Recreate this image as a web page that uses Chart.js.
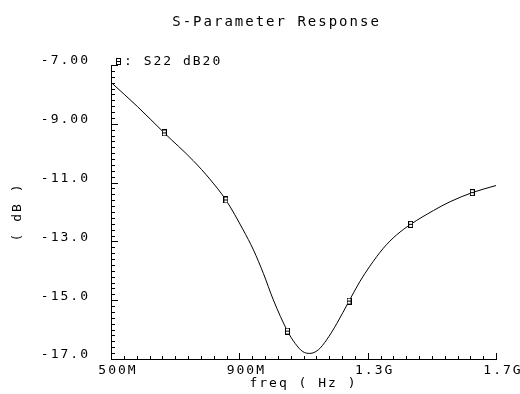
<!DOCTYPE html>
<html>
<head>
<meta charset="utf-8">
<script src="https://cdn.jsdelivr.net/npm/chart.js@4.4.1/dist/chart.umd.min.js"></script>
<style>
  html, body { margin: 0; padding: 0; background: #fff; }
</style>
</head>
<body>
<canvas id="grafica" width="520" height="394"></canvas>
<script>
const titulo = "S-Parameter Response";
const nombreSerie = "S22 dB20";

// frecuencia (MHz) y S22 (dB)
const frecuencias = [500, 583, 666, 756, 808, 858, 912, 944, 975, 1006, 1050, 1074, 1098, 1120,
    1146, 1172, 1204, 1242, 1276, 1307, 1349, 1390, 1434, 1505, 1557, 1626, 1700];
const s22 = [-7.59, -8.42, -9.31, -10.25, -10.88, -11.59, -12.61, -13.29, -14.09, -14.99, -16.05, -16.47, -16.75, -16.81,
    -16.69, -16.35, -15.79, -15.03, -14.36, -13.84, -13.23, -12.78, -12.42, -11.95, -11.65, -11.34, -11.10];
const marcadores = [666, 858, 1050, 1242, 1434, 1626];

const xTicks = [500, 900, 1300, 1700];
const xEtiquetas = ["500M", "900M", "1.3G", "1.7G"];
const yTicks = [-17, -15, -13, -11, -9, -7];
const yEtiquetas = ["-17.0", "-15.0", "-13.0", "-11.0", "-9.00", "-7.00"];

const fuente = { family: "'DejaVu Sans Mono', monospace", size: 13 };

function crearMarcador() {
    const c = document.createElement('canvas');
    c.width = 5;
    c.height = 7;
    const g = c.getContext('2d');
    g.fillStyle = '#fff';
    g.fillRect(0, 0, 5, 7);
    g.strokeStyle = '#000';
    g.lineWidth = 1;
    g.strokeRect(0.5, 0.5, 4, 6);
    g.fillStyle = '#000';
    g.fillRect(1, 3, 3, 1);
    return c;
}
const marcador = crearMarcador();

function esMayor(v, lista) {
    return lista.findIndex(m => Math.abs(m - v) < 1e-6);
}

// letras separadas como en la fuente original
const espaciado = {
    id: 'espaciado',
    beforeUpdate(chart) { chart.ctx.letterSpacing = '2px'; },
    beforeDraw(chart) { chart.ctx.letterSpacing = '2px'; }
};

// marcas de los ejes hacia adentro, titulo y leyenda
const marcasInternas = {
    id: 'marcasInternas',
    afterDraw(chart) {
        const c = chart.ctx;
        const area = chart.chartArea;
        const x = chart.scales.x;
        const y = chart.scales.y;
        c.save();
        c.fillStyle = '#000';
        const base = Math.round(area.bottom);
        for (const t of x.ticks) {
            const px = Math.round(x.getPixelForValue(t.value));
            const largo = esMayor(t.value, xTicks) >= 0 ? 6 : 3;
            c.fillRect(px, base - largo, 1, largo);
        }
        const izq = Math.round(area.left);
        for (const t of y.ticks) {
            const py = Math.round(y.getPixelForValue(t.value));
            const largo = esMayor(t.value, yTicks) >= 0 ? 6 : 3;
            c.fillRect(izq, py, largo + 1, 1);
        }

        c.textBaseline = 'alphabetic';
        c.font = "14px 'DejaVu Sans Mono', monospace";
        c.textAlign = 'center';
        c.fillText(titulo, area.left + area.width * 0.43, 26);

        c.drawImage(marcador, area.left + 5, area.top - 7);
        c.font = "13px 'DejaVu Sans Mono', monospace";
        c.textAlign = 'left';
        c.fillText(": " + nombreSerie, area.left + 13, area.top);
        c.restore();
    }
};

const ctx = document.getElementById('grafica').getContext('2d');
const grafica = new Chart(ctx, {
    type: 'line',
    data: {
        datasets: [{
            label: nombreSerie,
            data: frecuencias.map((f, i) => ({ x: f, y: s22[i] })),
            borderColor: '#000',
            borderWidth: 1,
            fill: false,
            cubicInterpolationMode: 'monotone',
            pointStyle: marcador,
            pointRadius: c => (c.raw && marcadores.includes(c.raw.x)) ? 3 : 0,
            pointHoverRadius: 0
        }]
    },
    options: {
        responsive: false,
        animation: false,
        devicePixelRatio: 1,
        layout: { padding: { top: 65, right: 24, bottom: 0, left: 0 } },
        plugins: {
            legend: { display: false },
            title: { display: false },
            tooltip: { enabled: false }
        },
        scales: {
            x: {
                type: 'linear',
                min: 500,
                max: 1700,
                grid: { display: false, drawTicks: false },
                border: { display: true, color: '#000', width: 1 },
                ticks: {
                    stepSize: 40,
                    autoSkip: false,
                    maxRotation: 0,
                    padding: 4,
                    labelOffset: 7,
                    color: '#000',
                    font: fuente,
                    callback: v => {
                        const i = esMayor(v, xTicks);
                        return i >= 0 ? xEtiquetas[i] : '';
                    }
                },
                title: { display: true, text: 'freq ( Hz )', color: '#000', font: fuente, padding: { top: 0, bottom: 3 } },
                afterFit: s => { s.height = 35; }
            },
            y: {
                min: -17,
                max: -7,
                grid: { display: false, drawTicks: false },
                border: { display: true, color: '#000', width: 1 },
                ticks: {
                    stepSize: 0.2,
                    autoSkip: false,
                    padding: 21,
                    labelOffset: -4,
                    color: '#000',
                    font: fuente,
                    callback: v => {
                        const i = esMayor(v, yTicks);
                        return i >= 0 ? yEtiquetas[i] : '';
                    }
                },
                title: { display: true, text: '( dB )', color: '#000', font: fuente, padding: { top: 10, bottom: 0 } },
                afterFit: s => { s.width = 111; }
            }
        }
    },
    plugins: [espaciado, marcasInternas]
});
</script>
</body>
</html>
